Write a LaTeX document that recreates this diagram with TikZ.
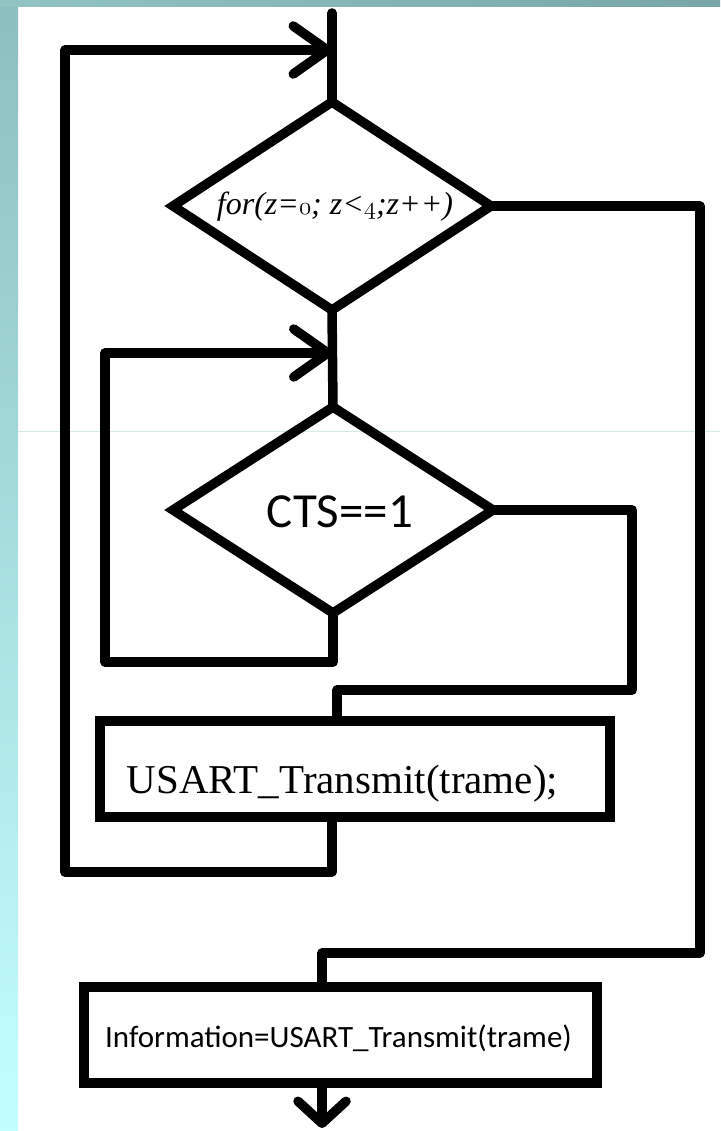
\documentclass[tikz,border=0pt]{standalone}
\usepackage{fontspec}
\newfontfamily\carlito{Carlito}
\newfontfamily\libserif{Liberation Serif}
\usetikzlibrary{shapes.geometric,arrows.meta}
\newcommand{\osfdig}[1]{{\usefont{OML}{lmm}{m}{it}#1}}
\definecolor{stripTop}{HTML}{8DBEBF}
\definecolor{stripBot}{HTML}{C3FFFF}
\definecolor{barL}{HTML}{93C4C4}
\definecolor{barR}{HTML}{78A6A8}
\definecolor{faint}{HTML}{D2EAEA}
\begin{document}
\begin{tikzpicture}[x=1pt,y=-1pt,
  flow/.style={line width=9.5pt, line cap=round, line join=round},
  decision/.style={draw, line width=9.5pt, shape=diamond, inner sep=0pt, outer sep=0pt},
  process/.style={draw, line width=9.5pt, rectangle, inner sep=0pt, outer sep=0pt},
  tiptop/.style={-{Straight Barb[length=34pt,width=48pt,round]}},
  tipbot/.style={-{Straight Barb[length=22pt,width=48pt,round]}},
  label/.style={inner sep=0pt, anchor=base}
]
\useasboundingbox (0,0) rectangle (720,1131);
\fill[white] (0,0) rectangle (720,1131);
\shade[top color=stripTop, bottom color=stripBot] (0,0) rectangle (18,1131);
\shade[left color=barL, right color=barR] (0,0) rectangle (720,7);
\draw[faint, line width=1pt] (18,431) -- (720,431);

% nodes
\coordinate (in) at (332,13);
\node[decision, minimum width=318pt, minimum height=208pt] (d1) at (332,206) {};
\node[label, font=\libserif\itshape\fontsize{32}{36}\selectfont] (t1) at (335,215) {for(z=\osfdig{0}; z<\osfdig{4};z++)};
\node[decision, minimum width=320pt, minimum height=206pt] (d2) at (333,510) {};
\node[label, font=\carlito\fontsize{49}{56}\selectfont] (t2) at (340,527) {CTS==1};
\node[process, minimum width=510pt, minimum height=96pt] (b1) at (355,769) {};
\node[label, font=\libserif\fontsize{41}{48}\selectfont] (t3) at (342.5,793) {USART\_Transmit(trame);};
\node[process, minimum width=513pt, minimum height=96pt] (b2) at (340.5,1035) {};
\node[label, font=\carlito\fontsize{31}{36}\selectfont] (t4) at (338.5,1047) {Information=USART\_Transmit(trame)};
\coordinate (out) at (322,1128);

% junctions and corners
\coordinate (j1) at (332,50);
\coordinate (j2) at (332.5,353);
\coordinate (c1) at (332,872);
\coordinate (c2) at (337,690);
\coordinate (c3) at (322,953);

% connectors
\draw[flow] (in) -- (d1.north);
\draw[flow] (d1.south) -- (d2.north);
\draw[flow, tiptop] (b1.south -| c1) -- (c1) -- (65,872) -- (65,50) -- (j1);
\draw[flow, tiptop] (d2.south) -- (333,662) -- (105,662) -- (105,353) -- (j2);
\draw[flow] (d2.east) -- (632,510) -- (632,690) -- (c2) -- (b1.north -| c2);
\draw[flow] (d1.east) -- (700,206) -- (700,953) -- (c3) -- (b2.north -| c3);
\draw[flow, tipbot] (b2.south -| out) -- (out);
\end{tikzpicture}
\end{document}
